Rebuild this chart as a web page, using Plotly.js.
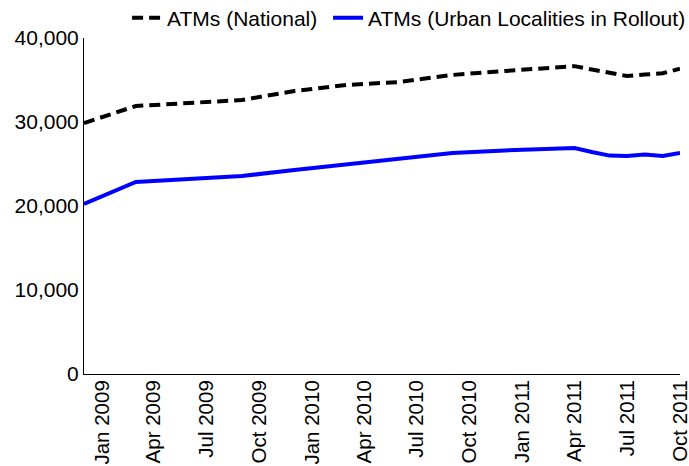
<!DOCTYPE html>
<html>
<head>
<meta charset="utf-8">
<script src="https://cdn.plot.ly/plotly-3.0.1.min.js"></script>
<style>html,body{margin:0;padding:0;background:#fff;}#chart{width:689px;height:466px;}</style>
</head>
<body>
<div id="chart"></div>
<script>
const dates = ['2008-12-01','2009-03-01','2009-06-01','2009-09-01','2009-12-01','2010-03-01','2010-06-01','2010-09-01','2010-12-01','2011-03-01','2011-04-01','2011-05-01','2011-06-01','2011-07-01','2011-08-01','2011-09-01','2011-10-01'];
const national = [29880,31900,32260,32620,33690,34400,34760,35600,36070,36550,36650,36250,35850,35480,35650,35800,36350];
const urban = [20240,22860,23210,23570,24290,24940,25600,26310,26610,26850,26900,26430,26000,25950,26130,25950,26310];
const seriesNames = ['ATMs (National)','ATMs (Urban Localities in Rollout)'];
const yTicks = [0,10000,20000,30000,40000];

const font = {family:'Liberation Sans, Arial, sans-serif', size:21, color:'#000'};
const xfont = {family:'Liberation Sans, Arial, sans-serif', size:20.5, color:'#000'};
const traces = [
  {x:dates, y:national, name:seriesNames[0] + '\u00a0', type:'scatter', mode:'lines',
   line:{color:'#000000', width:4, dash:'11px,6px'}},
  {x:dates, y:urban, name:seriesNames[1], type:'scatter', mode:'lines',
   line:{color:'#0000ff', width:4}}
];
const layout = {
  width:689, height:466,
  margin:{l:84, r:9, t:38, b:92, pad:0, autoexpand:false},
  paper_bgcolor:'#fff', plot_bgcolor:'#fff',
  font:font,
  showlegend:true,
  legend:{orientation:'h', x:1.0186, xanchor:'right', y:1.0595, yanchor:'middle',
          font:font, bgcolor:'rgba(0,0,0,0)', borderwidth:0, itemwidth:30,
          tracegroupgap:0},
  xaxis:{type:'date', range:[dates[0], dates[dates.length-1]], automargin:false,
         tickformat:'%b %Y', dtick:'M3', tick0:'2009-01-01', tickangle:-90,
         showgrid:false, zeroline:false, showline:true, linecolor:'#000', linewidth:1,
         ticks:'', tickfont:xfont, ticklabelstandoff:-3, ticklabeloverflow:'allow'},
  yaxis:{range:[0,40000], tickvals:yTicks, tickformat:',d', automargin:false,
         showgrid:false, zeroline:false, showline:true, linecolor:'#000', linewidth:1,
         ticks:'', tickfont:font, ticklabeloverflow:'allow'}
};
Plotly.newPlot('chart', traces, layout, {displayModeBar:false, staticPlot:true});
</script>
</body>
</html>
